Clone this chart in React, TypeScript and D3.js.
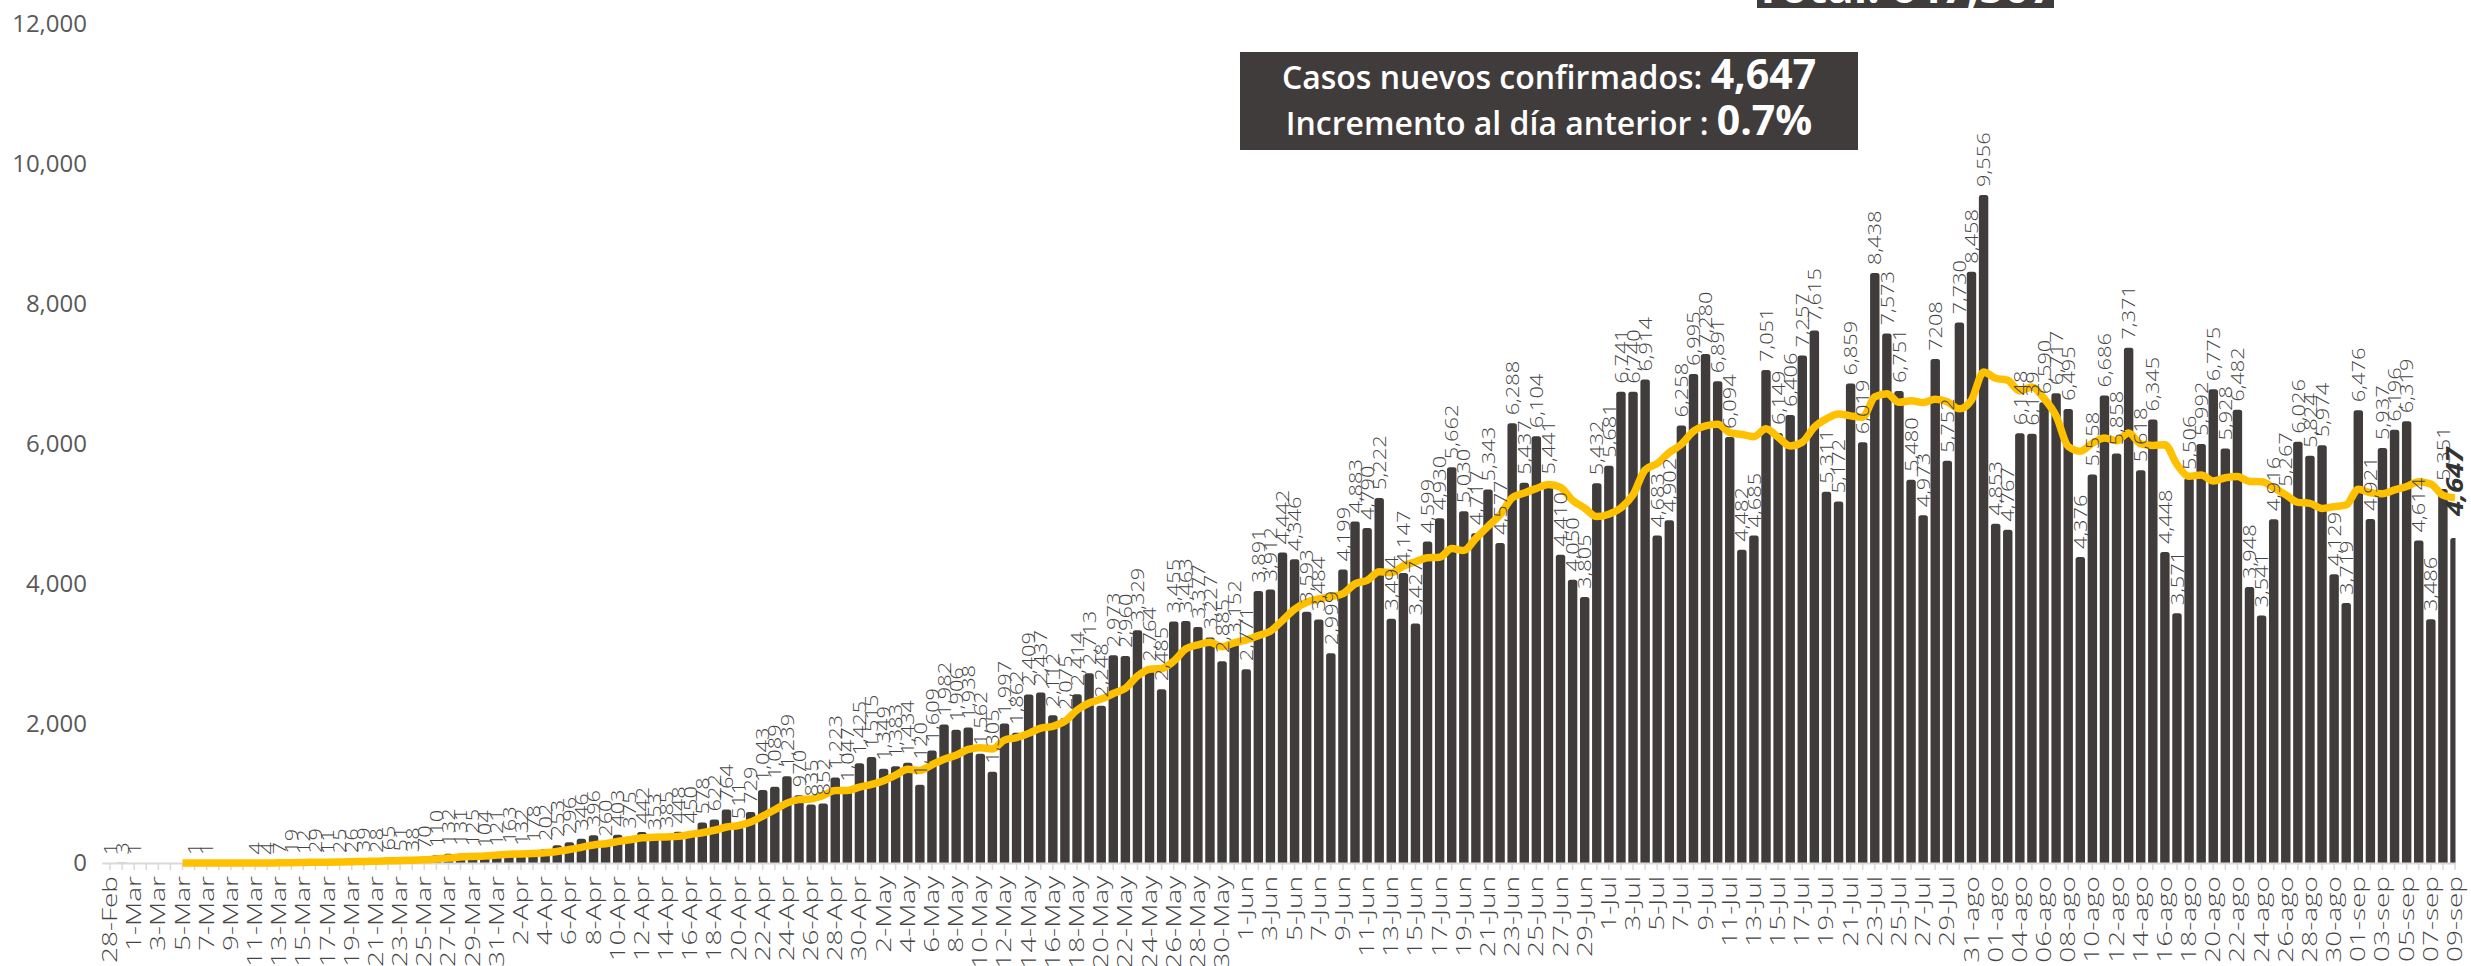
import React from 'react';
import * as d3 from 'd3';

const W = 2471;
const H = 966;

const categories: string[] = [
  '28-Feb', '29-Feb',
  '1-Mar', '2-Mar', '3-Mar', '4-Mar', '5-Mar', '6-Mar', '7-Mar', '8-Mar', '9-Mar', '10-Mar',
  '11-Mar', '12-Mar', '13-Mar', '14-Mar', '15-Mar', '16-Mar', '17-Mar', '18-Mar', '19-Mar', '20-Mar',
  '21-Mar', '22-Mar', '23-Mar', '24-Mar', '25-Mar', '26-Mar', '27-Mar', '28-Mar', '29-Mar', '30-Mar', '31-Mar',
  '1-Apr', '2-Apr', '3-Apr', '4-Apr', '5-Apr', '6-Apr', '7-Apr', '8-Apr', '9-Apr', '10-Apr',
  '11-Apr', '12-Apr', '13-Apr', '14-Apr', '15-Apr', '16-Apr', '17-Apr', '18-Apr', '19-Apr', '20-Apr',
  '21-Apr', '22-Apr', '23-Apr', '24-Apr', '25-Apr', '26-Apr', '27-Apr', '28-Apr', '29-Apr', '30-Apr',
  '1-May', '2-May', '3-May', '4-May', '5-May', '6-May', '7-May', '8-May', '9-May', '10-May',
  '11-May', '12-May', '13-May', '14-May', '15-May', '16-May', '17-May', '18-May', '19-May', '20-May',
  '21-May', '22-May', '23-May', '24-May', '25-May', '26-May', '27-May', '28-May', '29-May', '30-May', '31-May',
  '1-Jun', '2-Jun', '3-Jun', '4-Jun', '5-Jun', '6-Jun', '7-Jun', '8-Jun', '9-Jun', '10-Jun',
  '11-Jun', '12-Jun', '13-Jun', '14-Jun', '15-Jun', '16-Jun', '17-Jun', '18-Jun', '19-Jun', '20-Jun',
  '21-Jun', '22-Jun', '23-Jun', '24-Jun', '25-Jun', '26-Jun', '27-Jun', '28-Jun', '29-Jun', '30-Jun',
  '1-Jul', '2-Jul', '3-Jul', '4-Jul', '5-Jul', '6-Jul', '7-Jul', '8-Jul', '9-Jul', '10-Jul',
  '11-Jul', '12-Jul', '13-Jul', '14-Jul', '15-Jul', '16-Jul', '17-Jul', '18-Jul', '19-Jul', '20-Jul',
  '21-Jul', '22-Jul', '23-Jul', '24-Jul', '25-Jul', '26-Jul', '27-Jul', '28-Jul', '29-Jul', '30-Jul',
  '31-ago', '01-ago', '01-ago', '03-ago', '04-ago', '05-ago', '06-ago', '07-ago', '08-ago', '09-ago', '10-ago',
  '11-ago', '12-ago', '13-ago', '14-ago', '15-ago', '16-ago', '17-ago', '18-ago', '19-ago', '20-ago',
  '21-ago', '22-ago', '23-ago', '24-ago', '25-ago', '26-ago', '27-ago', '28-ago', '29-ago', '30-ago', '31-ago',
  '01-sep', '02-sep', '03-sep', '04-sep', '05-sep', '06-sep', '07-sep', '08-sep', '09-sep',
];

const newCases: number[] = [
  1, 3, 1, 0, 0, 0, 0, 1, 1, 0, 0, 0,
  4, 4, 7, 19, 12, 29, 11, 25, 26, 39, 28,
  65, 51, 38, 70, 110, 132, 131, 125, 104, 121, 163, 132, 178, 202, 253, 296, 346, 396, 260,
  403, 375, 442, 353, 385, 448, 450, 578, 622, 764, 511, 729, 1043, 1089, 1239, 970, 835, 852,
  1223, 1047, 1425, 1515, 1349, 1383, 1434, 1120, 1609, 1982, 1906, 1938, 1562, 1305, 1997, 1862,
  2409, 2437, 2112, 2075, 2414, 2713, 2248, 2973, 2960, 3329, 2764, 2485, 3455, 3463, 3377, 3227,
  2885, 3152, 2771, 3891, 3912, 4442, 4346, 3593, 3484, 2999, 4199, 4883, 4790, 5222,
  3494, 4147, 3427, 4599, 4930, 5662, 5030, 4717, 5343, 4577, 6288, 5437, 6104, 5441, 4410, 4050,
  3805, 5432, 5681, 6741, 6740, 6914, 4683, 4902, 6258, 6995, 7280, 6891, 6094, 4482, 4685, 7051,
  6149, 6406, 7257, 7615, 5311, 5172, 6859, 6019, 8438, 7573, 6751, 5480, 4973, 7208, 5752, 7730,
  8458, 9556,
  4853, 4767, 6148, 6139, 6590, 6717, 6495, 4376, 5558, 6686, 5858, 7371, 5618, 6345, 4448, 3571,
  5506, 5992, 6775, 5928, 6482, 3948, 3541, 4916, 5267, 6026, 5824, 5974, 4129, 3719, 6476, 4921,
  5937, 6196, 6319, 4614, 3486, 5351, 4647,
];

// labels printed differently in the source
const labelOverrides: Record<number, string> = { 151: '7208' };

const yTicks: number[] = [0, 2000, 4000, 6000, 8000, 10000, 12000];

const headlineCases = '4,647';
const headlineIncrease = '0.7%';
const totalText = 'Total: 647,507';

const BAR = '#403c3b';
const GOLD = '#FFC000';
const TXT = '#595959';
const LBL = '#454545';
const FONT = "'Open Sans', 'Liberation Sans', sans-serif";

export default function App() {
  React.useEffect(() => {
    document.body.style.margin = '0';
  }, []);

  const n = newCases.length;
  const c0 = 110;
  const cN = 2455;
  const step = (cN - c0) / (n - 1);
  const x = d3
    .scaleBand<number>()
    .domain(d3.range(n))
    .range([c0 - step / 2, cN + step / 2])
    .paddingInner(0.22)
    .paddingOuter(0.11);
  const bw = x.bandwidth();
  const cx = (i: number) => (x(i) as number) + bw / 2;

  const y = d3.scaleLinear().domain([0, 12000]).range([863, 24]);

  // 7-day trailing moving average (Excel moving-average trendline)
  const ma: [number, number][] = [];
  for (let i = 6; i < n; i++) {
    ma.push([i, d3.mean(newCases.slice(i - 6, i + 1)) as number]);
  }
  const line = d3
    .line<[number, number]>()
    .x((d) => cx(d[0]))
    .y((d) => y(d[1]))
    .curve(d3.curveMonotoneX);

  const fmt = d3.format(',');

  const barPath = (i: number, v: number) => {
    const x0 = x(i) as number;
    const yt = y(v);
    const y0 = y(0);
    const h = y0 - yt;
    const r = Math.min(2.5, h / 2, bw / 2);
    return `M${x0},${y0}V${yt + r}Q${x0},${yt} ${x0 + r},${yt}H${x0 + bw - r}Q${x0 + bw},${yt} ${x0 + bw},${yt + r}V${y0}Z`;
  };

  return (
    <div style={{ position: 'absolute', left: 0, top: 0 }}>
      <svg width={W} height={H} viewBox={`0 0 ${W} ${H}`} style={{ display: 'block', background: '#fff' }}>
        <defs>
          <clipPath id="plotClip">
            <rect x={0} y={0} width={cN + 0.5} height={H} />
          </clipPath>
        </defs>

        {/* y axis labels */}
        {yTicks.map((t) => (
          <text
            key={t}
            x={87}
            y={y(t)}
            dy="0.35em"
            textAnchor="end"
            fontFamily={FONT}
            fontSize={24}
            fill={TXT}
          >
            {fmt(t)}
          </text>
        ))}

        {/* bars */}
        <g clipPath="url(#plotClip)">
          {newCases.map((v, i) =>
            v > 0 ? <path key={i} d={barPath(i, v)} fill={BAR} /> : null
          )}
        </g>

        {/* baseline & ticks */}
        <line x1={(x(0) as number) - 3} x2={cN + 1} y1={y(0) + 0.5} y2={y(0) + 0.5} stroke="#d9d9d9" strokeWidth={2} />
        {newCases.map((_, i) => (
          <line key={i} x1={cx(i)} x2={cx(i)} y1={y(0)} y2={y(0) + 7} stroke="#d9d9d9" strokeWidth={1.5} />
        ))}

        {/* moving average */}
        <g clipPath="url(#plotClip)">
          <path d={line(ma) as string} fill="none" stroke={GOLD} strokeWidth={7.5} strokeLinejoin="round" />
        </g>

        {/* data labels */}
        {newCases.map((v, i) => {
          if (v <= 0) return null;
          const last = i === n - 1;
          const txt = labelOverrides[i] ?? fmt(v);
          if (last) {
            return (
              <text
                key={i}
                transform={`translate(${cx(i)},${y(v) - 22}) rotate(-90) scale(1.2,1)`}
                dy="0.35em"
                fontFamily={FONT}
                fontSize={23}
                fontWeight={700}
                fontStyle="italic"
                fill="#333"
              >
                {txt}
              </text>
            );
          }
          return (
            <text
              key={i}
              transform={`translate(${cx(i)},${y(v) - 8}) rotate(-90) scale(1.15,1)`}
              dy="0.35em"
              fontFamily={FONT}
              fontSize={19}
              fontWeight={300}
              fill={LBL}
            >
              {txt}
            </text>
          );
        })}

        {/* category labels */}
        {categories.map((c, i) =>
          i % 2 === 0 ? (
            <text
              key={i}
              transform={`translate(${cx(i)},${y(0) + 13}) rotate(-90) scale(1.4,1)`}
              dy="0.35em"
              textAnchor="end"
              fontFamily={FONT}
              fontSize={20}
              fontWeight={300}
              fill={LBL}
            >
              {c}
            </text>
          ) : null
        )}

        {/* headline box */}
        <rect x={1240} y={52} width={618} height={98} fill={BAR} />
        <text x={1549} y={89} textAnchor="middle" fontFamily={FONT} fill="#fff">
          <tspan fontSize={32} fontWeight={600}>Casos nuevos confirmados: </tspan>
          <tspan fontSize={41} fontWeight={700}>{headlineCases}</tspan>
        </text>
        <text x={1549} y={135} textAnchor="middle" fontFamily={FONT} fill="#fff">
          <tspan fontSize={32} fontWeight={600}>Incremento al día anterior : </tspan>
          <tspan fontSize={41} fontWeight={700}>{headlineIncrease}</tspan>
        </text>

        {/* partially visible top box */}
        <rect x={1757} y={-20} width={297} height={28} fill={BAR} />
        <text x={1905} y={3} textAnchor="middle" fontFamily={FONT} fontSize={44} fontWeight={700} fill="#fff">
          {totalText}
        </text>
      </svg>
    </div>
  );
}
